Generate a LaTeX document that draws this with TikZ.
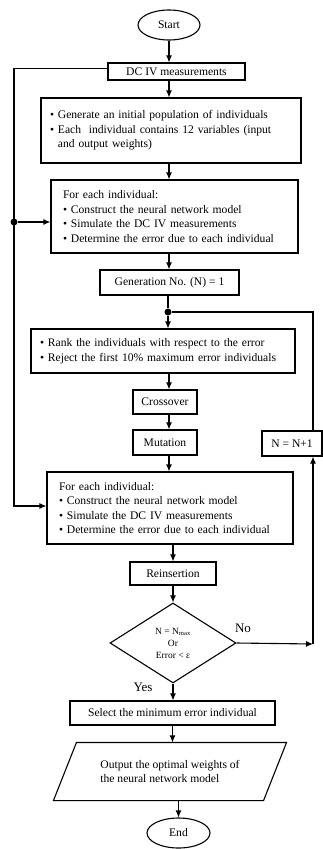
\documentclass[tikz,border=0pt]{standalone}
\usepackage{fontspec}
\setmainfont{Liberation Serif}
\usetikzlibrary{shapes.geometric,arrows.meta}

\newcommand{\bitem}{\textbullet\ }

\begin{document}
\begin{tikzpicture}[x=1pt,y=-1pt,line width=1.1pt,
    >={Latex[length=7pt,width=6pt]},
    font=\fontsize{11.6}{14.5}\selectfont,
    box/.style={draw,rectangle,inner sep=0pt},
    txtbox/.style={box,align=left,inner xsep=12pt},
    term/.style={draw,ellipse,inner sep=0pt,minimum height=30pt},
    junc/.style={circle,fill,inner sep=0pt,minimum size=7pt}]
  \useasboundingbox (0,0) rectangle (323,849);

  \node[term,minimum width=62pt] (start) at (169,25) {Start};
  \node[box,minimum width=137pt,minimum height=17pt] (meas) at (176.5,71.5)
    {DC IV measurements};
  \node[txtbox,inner xsep=9pt,text width=242pt,minimum width=260pt,
    minimum height=65pt] (init) at (171,130.5) {
    \bitem Generate an initial population of individuals\\
    \bitem Each\ \ individual contains 12 variables (input\\
    \phantom{\bitem}and output weights)};
  \node[txtbox,text width=223pt,minimum width=247pt,minimum height=73pt]
    (eval) at (174.5,216.5) {
    For each individual:\\
    \bitem Construct the neural network model\\
    \bitem Simulate the DC IV measurements\\
    \bitem Determine the error due to each individual};
  \node[box,minimum width=139pt,minimum height=25pt] (gen) at (169.5,282.5)
    {Generation No. (N) = 1};
  \node[junc] (dot) at (168,312) {};
  \node[txtbox,inner xsep=9pt,text width=246pt,minimum width=264pt,
    minimum height=44pt] (rank) at (163,351) {
    \bitem Rank the individuals with respect to the error\\
    \bitem Reject the first 10\% maximum error individuals};
  \node[box,minimum width=64pt,minimum height=24pt] (cross) at (165,402)
    {Crossover};
  \node[box,minimum width=64pt,minimum height=25pt] (mut) at (165,442.5)
    {Mutation};
  \node[box,minimum width=60pt,minimum height=25pt] (inc) at (292,443.5)
    {N = N+1};
  \node[txtbox,text width=222pt,minimum width=246pt,minimum height=72pt]
    (eval2) at (170,508) {
    For each individual:\\
    \bitem Construct the neural network model\\
    \bitem Simulate the DC IV measurements\\
    \bitem Determine the error due to each individual};
  \node[box,minimum width=86pt,minimum height=23pt] (reins) at (173,573.5)
    {Reinsertion};
  \node[draw,diamond,inner sep=0pt,minimum width=126pt,minimum height=80pt,
    align=center,font=\fontsize{9.5}{12}\selectfont] (dec) at (173,643)
    {N = N\textsubscript{max}\\Or\\Error < ε};
  \node[font=\fontsize{13}{15}\selectfont] (no) at (243,628) {No};
  \node[font=\fontsize{13}{15}\selectfont] (yes) at (143,687) {Yes};
  \node[box,minimum width=205pt,minimum height=24pt] (sel) at (172.5,713)
    {Select the minimum error individual};
  % parallelogram drawn round a plain node
  \node[inner sep=0pt,minimum width=232pt,minimum height=57pt,align=left]
    (out) at (170,771.5)
    {Output the optimal weights of\\the neural network model};
  \draw ([xshift=23pt]out.north west) -- (out.north east)
    -- ([xshift=-23pt]out.south east) -- (out.south west) -- cycle;
  \node[term,minimum width=63pt] (end) at (178.5,833) {End};

  % main flow
  \draw[->] (start) -- (start |- meas.north);
  \draw[->] (meas.south -| start) -- (init.north -| start);
  \draw[->] (init.south -| start) -- (eval.north -| start);
  \draw[->] (eval.south -| start) -- (gen.north -| start);
  \draw (gen.south -| dot) -- (dot);
  \draw[->] (dot) -- (dot |- rank.north);
  \draw[->] (rank.south -| start) -- (cross.north -| start);
  \draw[->] (cross.south -| start) -- (mut.north -| start);
  \draw[->] (mut.south -| start) -- (eval2.north -| start);
  \draw[->] (eval2.south -| reins) -- (reins.north);
  \draw[->] (reins) -- (dec);
  \draw[->] (dec) -- (dec |- sel.north);
  \draw[->] (sel) -- (sel |- out.north);
  \draw[->] (end |- out.south) -- (end);

  % measurements fed back into both evaluations
  \coordinate (lb) at (14,506);
  \node[junc] (ldot) at (14,222) {};
  \draw[->] ([yshift=3pt]meas.west) -| (lb) -- (lb -| eval2.west);
  \draw[->] (ldot) -- (ldot -| eval.west);

  % generation loop
  \coordinate (rb) at (313,644);
  \draw[->] (dec.east) -- (rb);
  \draw[->] (rb) -- (rb |- inc.south);
  \draw (rb |- inc.north) |- (dot);
\end{tikzpicture}
\end{document}
